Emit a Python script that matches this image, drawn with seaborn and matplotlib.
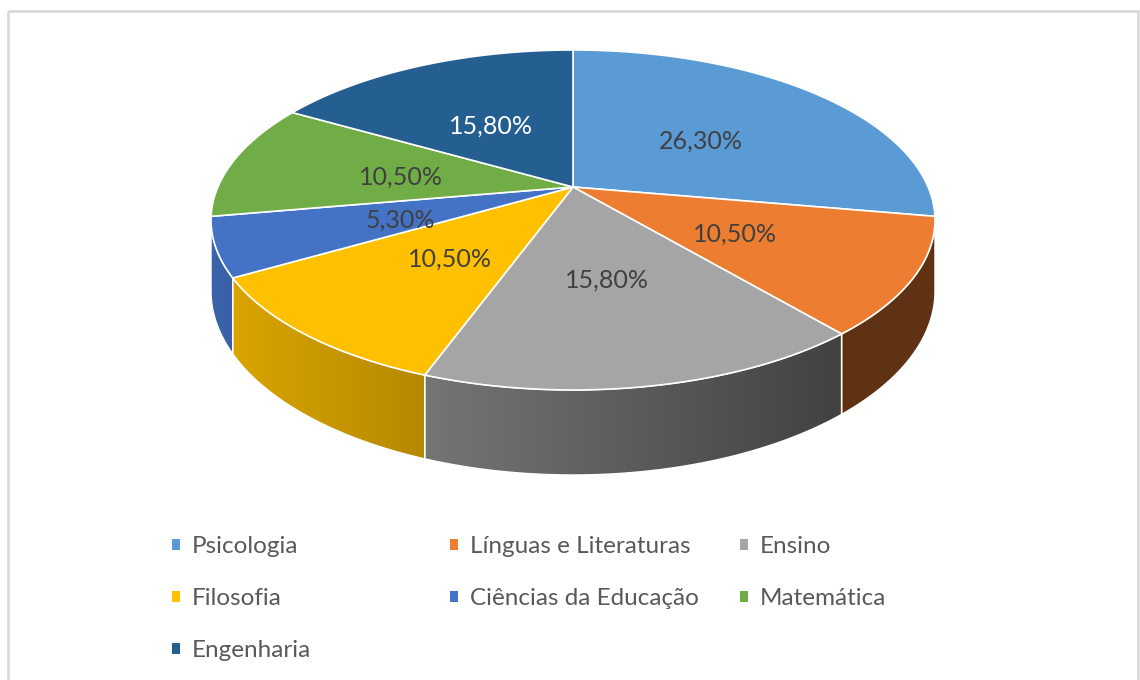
import numpy as np
import matplotlib
matplotlib.use('Agg')
import matplotlib.pyplot as plt
import matplotlib.patches as mpatches
import matplotlib.transforms as mtransforms
from matplotlib.colors import to_rgb
import seaborn as sns

categories = ['Psicologia', 'Línguas e Literaturas', 'Ensino', 'Filosofia',
              'Ciências da Educação', 'Matemática', 'Engenharia']
shares = [26.3, 10.5, 15.8, 10.5, 5.3, 10.5, 15.8]
colors = ['#5B9BD5', '#ED7D31', '#A5A5A5', '#FFC000', '#4472C4', '#70AD47', '#255E91']
pct_labels = [f'{s:.2f}%'.replace('.', ',') for s in shares]
label_colors = ['#404040'] * 6 + ['white']

# tilted-disc projection (pixel space): centre, half width, half depth, perspective
CX, CY = 573, 187
A, B, K = 355.1, 163.6, 0.194
DEPTH = 68.5


class Tilt(mtransforms.Transform):
    input_dims = output_dims = 2
    is_separable = False

    def __init__(self, drop=0.0):
        super().__init__()
        self.drop = drop

    def transform_non_affine(self, values):
        values = np.asarray(values, float)
        u, v = values[:, 0], values[:, 1]
        w = 1 + K * v
        return np.column_stack([CX + A * u / w, CY - (B * v - self.drop) / w])

    def transform_path_non_affine(self, path):
        pts = []
        for seg, code in path.iter_bezier():
            if code == mpatches.Path.MOVETO:
                pts.append(seg.control_points)
            else:
                pts.append(seg(np.linspace(0, 1, 30))[1:])
        return mpatches.Path(self.transform_non_affine(np.vstack(pts)))


sns.set_theme(style='white')
plt.rcParams['font.family'] = ['Lato', 'DejaVu Sans']

fig = plt.figure(figsize=(11.4, 6.8), dpi=100)
ax = fig.add_axes([0, 0, 1, 1])

wedges, _ = ax.pie(shares, colors=colors, startangle=90, counterclock=False,
                   labeldistance=None,
                   wedgeprops=dict(edgecolor='white', linewidth=1.2))

top = Tilt(0.0)
bottom = Tilt(DEPTH)
for w in wedges:
    w.set_transform(top + ax.transData)
    w.set_zorder(3)

# side walls of the disc, shaded left (light) to right (dark)
phi_s = np.degrees(np.arcsin(K))
xs = np.linspace(200, 945, 400)
shade = np.clip(0.87 - 0.00075 * (xs - 211), 0.4, 1)
for w, c in zip(wedges, colors):
    for shift in (-360, 0, 360):
        lo = max(w.theta1, -180 + phi_s + shift)
        hi = min(w.theta2, -phi_s + shift)
        if hi - lo <= 0.05:
            continue
        ang = np.radians(np.linspace(lo, hi, 80))
        uv = np.column_stack([np.cos(ang), np.sin(ang)])
        rim = np.vstack([top.transform(uv), bottom.transform(uv)[::-1]])
        poly = mpatches.Polygon(rim, closed=True, facecolor='none',
                                edgecolor='white', lw=1, zorder=2)
        ax.add_patch(poly)
        img = np.array(to_rgb(c))[None, None, :] * shade[None, :, None]
        im = ax.imshow(img, extent=(xs[0], xs[-1], 490, 150), aspect='auto',
                       interpolation='bilinear', zorder=1)
        im.set_clip_path(poly)

for w, txt, tc in zip(wedges, pct_labels, label_colors):
    mid = np.radians((w.theta1 + w.theta2) / 2)
    x, y = top.transform([[0.5 * np.cos(mid), 0.5 * np.sin(mid)]])[0]
    ax.text(x, y + 4, txt, ha='center', va='center', fontsize=18,
            color=tc, zorder=5)

ax.add_patch(mpatches.Rectangle((7.5, 11), 1130, 700, fill=False,
                                edgecolor='#D9D9D9', lw=2, zorder=0))

ax.set_aspect('auto')
ax.set_xlim(0, 1140)
ax.set_ylim(680, 0)
ax.axis('off')

# legend laid out row by row in three equal columns
col_x = [172, 450, 740]
for j, x0 in enumerate(col_x):
    idx = list(range(j, len(categories), 3))
    leg = fig.legend([wedges[i] for i in idx], [categories[i] for i in idx],
                     loc='upper left', bbox_to_anchor=(x0 / 1140, 1 - 536 / 680),
                     frameon=False, borderpad=0, borderaxespad=0,
                     handlelength=0.33, handleheight=0.33, handletextpad=0.5,
                     labelspacing=1.28, fontsize=17.5, labelcolor='#595959')
    for h in leg.legend_handles:
        h.set_linewidth(0)

fig.savefig('out.png', dpi=100, facecolor='white')
